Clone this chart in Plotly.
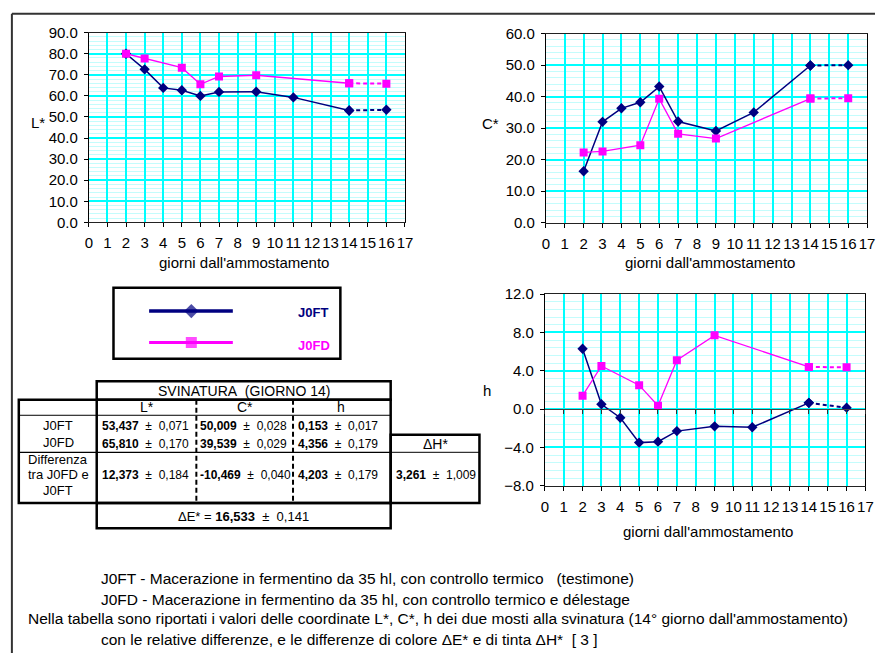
import plotly.graph_objects as go

W, H = 883, 661
FONT = "Liberation Sans, Arial, sans-serif"

# ---------------- data ----------------
days_ft = [2, 3, 4, 5, 6, 7, 9, 11, 14]
days_fd = [2, 3, 5, 6, 7, 9, 14]
day_end = 16

L_ft = [80.0, 72.6, 63.8, 62.7, 60.0, 61.9, 62.0, 59.3, 53.1]
L_ft_end = 53.4
L_fd = [80.0, 77.8, 73.4, 65.5, 69.2, 69.8, 66.0]
L_fd_end = 65.8

C_ft = [16.3, 32.0, 36.3, 38.2, 43.2, 32.1, 29.1, 35.0, 49.9]
C_ft_end = 50.0
C_fd = [22.3, 22.6, 24.6, 39.3, 28.2, 26.7, 39.4]
C_fd_end = 39.5

h_ft = [6.3, 0.5, -0.9, -3.5, -3.4, -2.3, -1.8, -1.9, 0.65]
h_ft_end = 0.15
h_fd = [1.4, 4.5, 2.5, 0.35, 5.1, 7.7, 4.4]
h_fd_end = 4.36

series_names = ["J0FT", "J0FD"]
x_title = "giorni dall'ammostamento"

tab_title = "SVINATURA  (GIORNO 14)"
tab_cols = ["L*", "C*", "h"]
ft_vals = [53.437, 50.009, 0.153]
ft_err = [0.071, 0.028, 0.017]
fd_vals = [65.810, 39.539, 4.356]
fd_err = [0.170, 0.029, 0.179]
diff_vals = [12.373, -10.469, 4.203]
diff_err = [0.184, 0.040, 0.179]
dH_val, dH_err = 3.261, 1.009
dE_val, dE_err = 16.533, 0.141

captions = [
    "J0FT - Macerazione in fermentino da 35 hl, con controllo termico   (testimone)",
    "J0FD - Macerazione in fermentino da 35 hl, con controllo termico e délestage",
    "Nella tabella sono riportati i valori delle coordinate L*, C*, h dei due mosti alla svinatura (14° giorno dall'ammostamento)",
    "con le relative differenze, e le differenze di colore ΔE* e di tinta ΔH*  [ 3 ]",
]

NAVY = "#000080"
MAG = "#FF00FF"
NB = "\u00a0"


def X(p):
    return p / W


def Y(p):
    return 1 - p / H


fig = go.Figure()


def add_panel(xa, ya, ft, ft_end, fd, fd_end):
    for days, vals, end, color, sym, size, lw, name in [
        (days_ft, ft, ft_end, NAVY, "diamond", 8, 1.5, series_names[0]),
        (days_fd, fd, fd_end, MAG, "square", 8, 1.3, series_names[1]),
    ]:
        fig.add_trace(go.Scatter(
            x=days, y=vals, mode="lines+markers", name=name, xaxis=xa, yaxis=ya,
            line=dict(color=color, width=lw),
            marker=dict(symbol=sym, size=size, color=color),
            showlegend=False, hoverinfo="x+y"))
        fig.add_trace(go.Scatter(
            x=[days[-1], day_end], y=[vals[-1], end], mode="lines+markers",
            xaxis=xa, yaxis=ya, line=dict(color=color, width=2, dash="4px,3px"),
            marker=dict(symbol=sym, size=size, color=color),
            showlegend=False, hoverinfo="x+y"))


add_panel("x", "y", L_ft, L_ft_end, L_fd, L_fd_end)
add_panel("x2", "y2", C_ft, C_ft_end, C_fd, C_fd_end)
add_panel("x3", "y3", h_ft, h_ft_end, h_fd, h_fd_end)

# invisible trace for the zero-line tick axis
fig.add_trace(go.Scatter(x=[], y=[], xaxis="x4", yaxis="y3", showlegend=False))

# legend sample (custom legend box)
for yy, color, sym, lw in [(0.67, NAVY, "diamond", 3.5), (0.23, MAG, "square", 3)]:
    fig.add_trace(go.Scatter(x=[0.157, 0.343, 0.526], y=[yy] * 3, mode="lines+markers",
                             xaxis="x5", yaxis="y5",
                             line=dict(color=color, width=lw),
                             marker=dict(symbol=sym, size=[0, 11, 0], color=color, line=dict(width=0)),
                             showlegend=False, hoverinfo="skip"))

tickfont = dict(family=FONT, size=15, color="#000")


def xax(dom, anchor):
    return dict(domain=dom, anchor=anchor, range=[0, 17], dtick=1, tick0=0,
                showgrid=True, gridcolor="#00FFFF", gridwidth=1.5,
                ticks="outside", ticklen=4, tickcolor="#000", tickwidth=1,
                showline=True, linecolor="#222", linewidth=1, mirror=True,
                zeroline=False, tickfont=tickfont, tickangle=0, ticklabelstandoff=3)


def yax(dom, anchor, rng, dt, mdt):
    return dict(domain=dom, anchor=anchor, range=rng, dtick=dt, tick0=0,
                tickformat=".1f", showgrid=True, gridcolor="#00FFFF", gridwidth=1.5,
                minor=dict(dtick=mdt, tick0=0, showgrid=True, gridcolor="#C4FCFC", gridwidth=1, ticks=""),
                ticks="outside", ticklen=4, tickcolor="#000", tickwidth=1,
                showline=True, linecolor="#000", linewidth=1, mirror=True,
                zeroline=False, tickfont=tickfont, ticklabelstandoff=3)


h_zero_py = 292.7 + 12 * (489.3 - 292.7) / 20

fig.update_layout(
    width=W, height=H, margin=dict(l=0, r=0, t=0, b=0),
    paper_bgcolor="white", plot_bgcolor="white", showlegend=False,
    font=dict(family=FONT, color="#000"),
    xaxis=xax([X(86), X(406.5)], "y"),
    yaxis=yax([Y(219), Y(24.3)], "x", [0, 90], 10, 2),
    xaxis2=xax([X(549.3), X(875)], "y2"),
    yaxis2=yax([Y(219.3), Y(25.3)], "x2", [0, 60], 10, 2),
    xaxis3=xax([X(548.3), X(873.3)], "y3"),
    yaxis3=yax([Y(489.3), Y(292.7)], "x3", [-8, 12], 4, 0.8),
    xaxis4=dict(overlaying="x3", anchor="free", position=Y(h_zero_py), range=[0, 17],
                dtick=1, tick0=0, ticks="outside", ticklen=4, tickcolor="#333",
                showticklabels=False, showgrid=False, zeroline=False,
                showline=True, linecolor="#444", linewidth=1.2),
    xaxis5=dict(domain=[X(111), X(341)], anchor="y5", range=[0, 1], visible=False),
    yaxis5=dict(domain=[Y(359), Y(286)], anchor="x5", range=[0, 1], visible=False),
)

shapes = []
ann = []


def line(x0, y0, x1, y1, w=1, dash=None, color="#000"):
    shapes.append(dict(type="line", xref="paper", yref="paper",
                       x0=X(x0), y0=Y(y0), x1=X(x1), y1=Y(y1),
                       line=dict(color=color, width=w, dash=dash)))


def rect(x0, y0, x1, y1, w=2.5):
    shapes.append(dict(type="rect", xref="paper", yref="paper",
                       x0=X(x0), y0=Y(y0), x1=X(x1), y1=Y(y1),
                       line=dict(color="#000", width=w), fillcolor="rgba(0,0,0,0)"))


def text(x, y, s, size=12, xanchor="center", color="#000"):
    ann.append(dict(x=X(x), y=Y(y), xref="paper", yref="paper", text=s, showarrow=False,
                    xanchor=xanchor, yanchor="middle",
                    font=dict(family=FONT, size=size, color=color)))


# outer frame
line(8, 661, 8, 5, 2, color="#333")
line(8, 5, 883, 5, 2, color="#333")

# axis titles
text(34, 117, "L*", 15)
text(493, 118, "C*", 15)
text(490, 392, "h", 15)
text(243, 260, x_title, 15)
text(716, 260, x_title, 15)
text(714, 536, x_title, 15)

# legend box
rect(111, 286, 341, 359, 2.5)
text(296, 312, "<b>%s</b>" % series_names[0], 13, "left", NAVY)
text(296, 345, "<b>%s</b>" % series_names[1], 13, "left", MAG)

# table
rect(94, 382, 392, 401)
rect(15, 401, 392, 507)
rect(392, 437, 482, 507)
rect(94, 507, 392, 533)
line(15, 417, 392, 417, 1)
line(15, 455, 392, 455, 1.2)
line(392, 455, 482, 455, 1)
line(94, 401, 94, 507, 2.5)
line(195, 401, 195, 507, 2, "5px,3px")
line(293, 401, 293, 507, 2, "5px,3px")


def fmt(v):
    return ("%.3f" % v).replace(".", ",")


def val(v, e):
    return "<b>%s</b>%s±%s%s" % (fmt(v), NB * 2, NB * 2, fmt(e))


text(243, 392, tab_title.replace(" ", NB), 14)
col_c = [145, 244, 342]
col_l = [97, 197, 296]
for c, lab in zip(col_c, tab_cols):
    text(c, 409, lab, 14)
text(55, 428, series_names[0], 13)
text(55, 445, series_names[1], 13)
text(55, 462, "Differenza", 13)
text(55, 478, "tra J0FD e", 13)
text(55, 494, "J0FT", 13)
for i in range(3):
    text(col_l[i], 428, val(ft_vals[i], ft_err[i]), 12, "left")
    text(col_l[i], 446, val(fd_vals[i], fd_err[i]), 12, "left")
    text(col_l[i], 478, val(diff_vals[i], diff_err[i]), 12, "left")
text(437, 446, "ΔH*", 14)
text(395, 478, val(dH_val, dH_err), 12, "left")
text(243, 521, "ΔE*%s=%s%s" % (NB, NB, val(dE_val, dE_err)), 13)

# captions
text(96, 585, captions[0].replace("   ", NB * 3), 15.5, "left")
text(96, 606, captions[1], 15.5, "left")
text(22, 626, captions[2], 15.5, "left")
text(96, 647, captions[3].replace("  ", NB * 2), 15.5, "left")

fig.update_layout(shapes=shapes, annotations=ann)
fig.write_html("out.html", config={"displayModeBar": False},
               post_script="document.body.style.margin='0';document.body.style.overflow='hidden';")
